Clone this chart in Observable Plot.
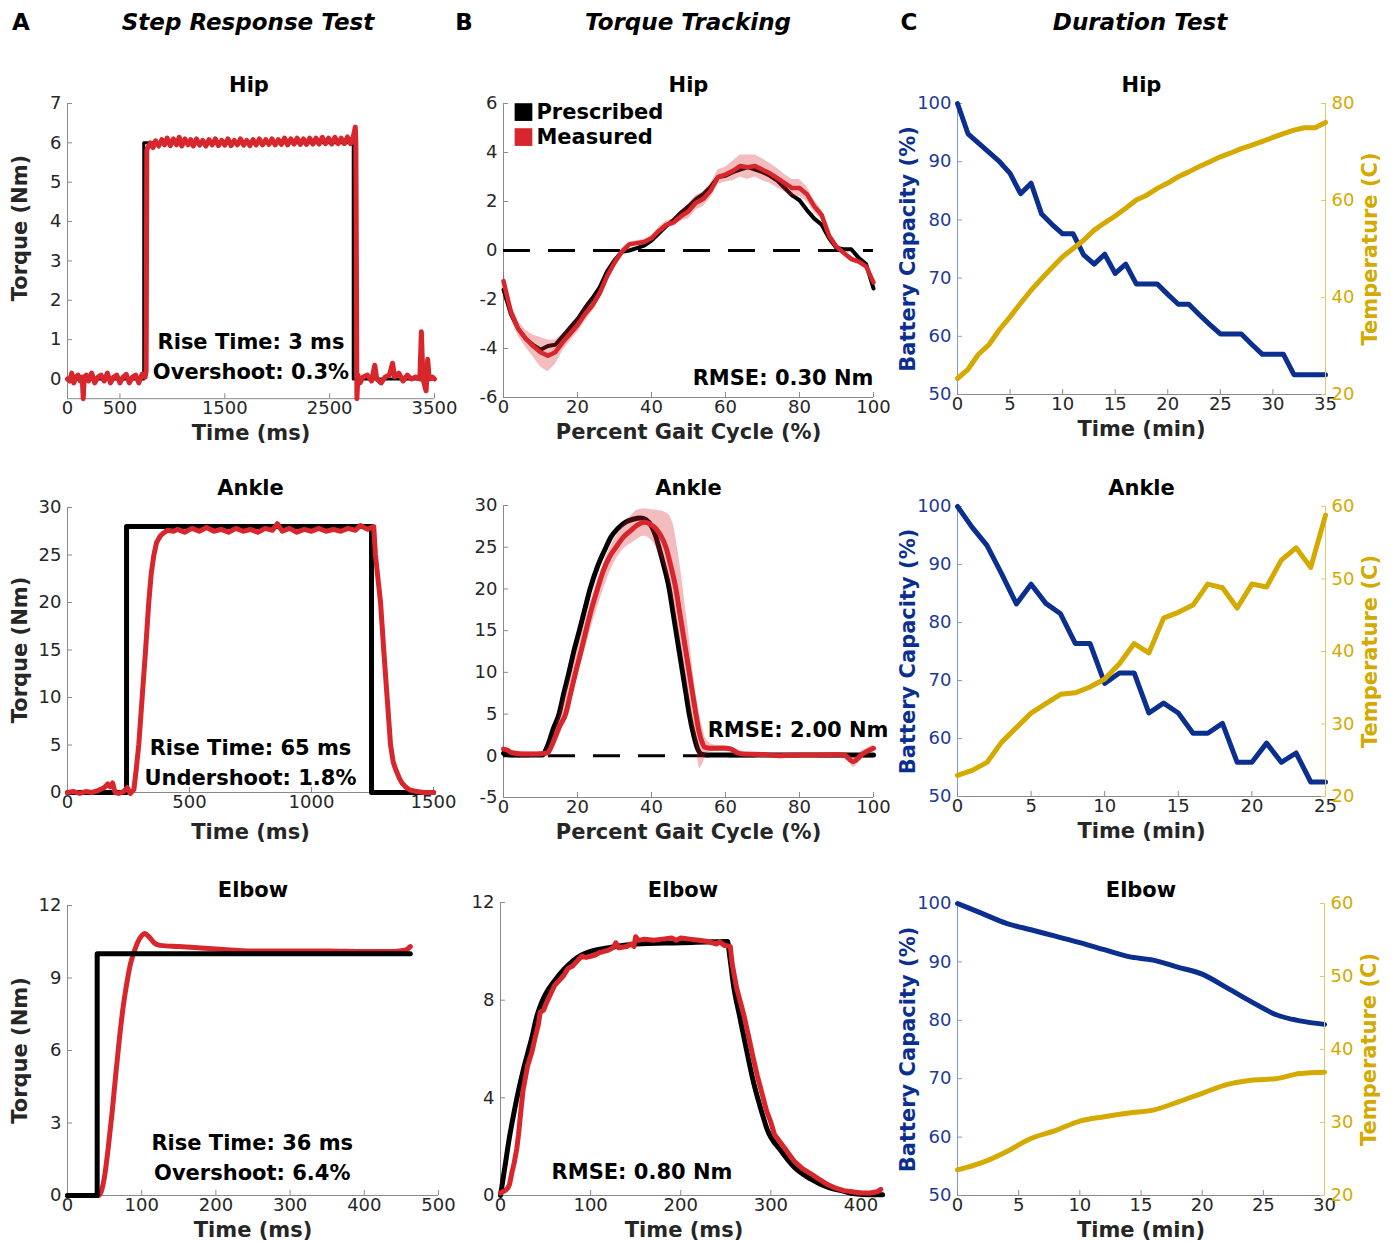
<!DOCTYPE html>
<html><head><meta charset="utf-8">
<script src="https://cdn.jsdelivr.net/npm/d3@7"></script>
<script src="https://cdn.jsdelivr.net/npm/@observablehq/plot@0.6"></script>
<style>
body{margin:0;background:#fff;font-family:"DejaVu Sans",Verdana,sans-serif;}
#root{position:relative;width:1391px;height:1242px;overflow:hidden;background:#fff;}
.hdr{position:absolute;font-weight:bold;font-size:23px;white-space:nowrap;transform:translate(-50%,-50%);color:#000;}
.hdr.it{font-style:italic;}
</style></head><body><div id="root"></div>
<script>
// ---------------- DATA ----------------
const headers = [["A",21],["B",464],["C",909]];
const columnTitles = [["Step Response Test",248],["Torque Tracking",688],["Duration Test",1140]];
const joints = ["Hip","Ankle","Elbow"];

// Column A: step response (time ms, torque Nm)
const hipStepPrescribed = [[0,0],[727,0],[727,6],[2725,6],[2725,0],[3500,0]];
const hipStepMeasured = [[0,0],[20,-0.05],[40,0.15],[60,-0.1],[80,0.05],[100,0.1],[120,-0.05],[140,0.05],[150,-0.5],[160,0.05],[180,0.1],[200,-0.05],[230,0.15],[260,-0.1],[290,0.05],[320,0.1],[350,-0.05],[380,0.15],[410,-0.1],[440,0.05],[470,0.1],[500,-0.1],[530,0.05],[560,0.12],[590,-0.1],[620,0.05],[650,0.1],[680,-0.1],[710,0.12],[740,0.05],[750,0.2],[756,5.8],
[760,5.85],[790,6.0],[815,5.88],[840,6.05],[870,5.92],[900,6.08],[925,5.95],[950,6.12],[980,5.93],[1010,6.1],[1040,5.95],[1065,6.14],[1090,5.92],[1120,6.1],[1150,5.95],[1175,6.08],[1200,5.92],[1230,6.1],[1260,5.94],[1290,6.06],[1320,5.92],[1350,6.08],[1380,5.95],[1410,6.1],[1440,5.93],[1470,6.06],[1500,5.94],[1530,6.1],[1560,5.93],[1590,6.06],[1620,5.95],[1650,6.1],[1680,5.94],[1710,6.06],[1740,5.93],[1770,6.08],[1800,5.95],[1830,6.1],[1860,5.95],[1890,6.08],[1920,5.96],[1950,6.1],[1980,5.95],[2010,6.08],[2040,5.96],[2070,6.12],[2100,5.95],[2130,6.1],[2160,5.97],[2190,6.12],[2220,5.96],[2250,6.1],[2280,5.96],[2310,6.12],[2340,5.97],[2370,6.12],[2400,5.97],[2430,6.14],[2460,5.98],[2490,6.12],[2520,5.97],[2550,6.14],[2580,5.98],[2610,6.12],[2640,5.98],[2670,6.15],[2700,5.98],[2725,6.15],[2745,6.4],[2750,6.0],[2755,3.0],[2760,-0.5],[2770,0.1],
[2790,-0.1],[2820,0.05],[2860,0.1],[2900,-0.05],[2930,0.35],[2950,0],[2990,-0.1],[3030,0.05],[3070,0.1],[3100,0.4],[3120,0.05],[3160,0.15],[3200,-0.05],[3240,0.1],[3280,0],[3320,0.05],[3360,0],[3375,1.2],[3390,0],[3420,-0.3],[3435,0.5],[3450,0],[3480,0.05],[3500,0]];

const ankleStepPrescribed = [[0,0],[242,0],[242,28],[1246,28],[1246,0],[1500,0]];
const ankleStepMeasured = [[0,0],[25,0.1],[50,-0.1],[75,0.1],[100,0],[125,0.2],[150,0.5],[165,0.9],[175,0.6],[185,1.0],[195,0],[210,-0.1],[230,0.1],[245,0.5],[258,-0.1],[272,0.3],[282,2.5],[292,5],[306,10],[320,15],[333,20],[343,23],[354,25],[365,26.3],[380,27],[393,27.3],[410,27.6],[435,27.5],[450,27.7],[480,27.4],[510,27.8],[540,27.5],[570,27.9],[600,27.5],[630,27.7],[660,27.4],[690,27.8],[720,27.5],[750,27.7],[780,27.4],[810,27.8],[840,27.6],[860,28.3],[880,27.5],[910,27.8],[940,27.4],[970,27.7],[1000,27.5],[1030,27.8],[1060,27.5],[1090,27.7],[1120,27.5],[1150,27.8],[1180,27.6],[1200,28.1],[1230,27.7],[1255,28.0],[1262,25],[1283,20],[1296,15],[1310,10],[1324,5],[1335,3.2],[1344,2.5],[1360,1.5],[1371,1.0],[1385,0.6],[1400,0.3],[1430,0.1],[1460,0],[1500,0]];

const elbowStepPrescribed = [[0,0],[40,0],[40,10],[462,10]];
const elbowStepMeasured = [[0,0],[42,0],[50,0.8],[55,2],[60,3.4],[65,5],[70,6.5],[75,7.8],[80,8.8],[85,9.6],[90,10.1],[95,10.5],[100,10.75],[104,10.84],[110,10.7],[117,10.45],[125,10.35],[150,10.3],[200,10.2],[250,10.12],[300,10.12],[350,10.12],[400,10.1],[440,10.1],[455,10.15],[462,10.3]];

const stepNotes = [["Rise Time: 3 ms","Overshoot: 0.3%"],["Rise Time: 65 ms","Undershoot: 1.8%"],["Rise Time: 36 ms","Overshoot: 6.4%"]];

// Column B: torque tracking
const hipTrackPrescribed = [[0,-1.6],[2,-2.6],[4,-3.2],[6,-3.6],[8,-3.85],[10,-4.05],[12,-3.9],[14,-3.85],[16,-3.5],[18,-3.15],[20,-2.8],[22,-2.35],[24,-1.95],[26,-1.5],[28,-0.85],[30,-0.4],[32,-0.05],[34,0.0],[36,0.1],[38,0.2],[40,0.4],[42,0.7],[44,1.0],[46,1.25],[48,1.55],[50,1.8],[52,2.1],[54,2.3],[56,2.6],[58,3.0],[60,3.05],[62,3.2],[64,3.3],[66,3.4],[68,3.3],[70,3.2],[72,3.05],[74,2.85],[76,2.55],[78,2.25],[80,2.05],[82,1.65],[84,1.3],[86,1.05],[88,0.5],[90,0.1],[92,0.05],[94,0.05],[96,-0.3],[98,-0.55],[100,-1.55]];
// [percent, measured mean, band half-width]
const hipTrackMeasured = [[0,-1.25,0.4],[2,-2.5,0.3],[4,-3.2,0.3],[6,-3.6,0.35],[8,-3.9,0.45],[10,-4.15,0.6],[12,-4.3,0.65],[14,-4.15,0.5],[16,-3.75,0.35],[18,-3.4,0.3],[20,-3.05,0.3],[22,-2.6,0.3],[24,-2.25,0.25],[26,-1.75,0.2],[28,-1.05,0.2],[30,-0.5,0.15],[32,-0.05,0.15],[34,0.25,0.1],[36,0.3,0.1],[38,0.35,0.1],[40,0.5,0.1],[42,0.8,0.15],[44,1.05,0.15],[46,1.15,0.15],[48,1.4,0.2],[50,1.6,0.3],[52,1.95,0.3],[54,2.1,0.3],[56,2.45,0.3],[58,3.0,0.3],[60,3.1,0.3],[62,3.25,0.4],[64,3.45,0.45],[66,3.4,0.5],[68,3.45,0.45],[70,3.3,0.45],[72,3.15,0.4],[74,2.95,0.4],[76,2.75,0.35],[78,2.55,0.35],[80,2.55,0.35],[82,2.3,0.3],[84,1.8,0.25],[86,1.45,0.2],[88,0.6,0.15],[90,0.15,0.1],[92,-0.1,0.1],[94,-0.35,0.1],[96,-0.45,0.1],[98,-0.65,0.1],[100,-1.3,0.15]];

const ankleTrackPrescribed = [[0,0.3],[2,0.1],[10.5,0.1],[12,1.3],[13.5,3.3],[15,5],[16.3,7.5],[17.7,10],[19,12.5],[20.5,15],[22,17.6],[23.4,20],[25.5,22.8],[27.7,25],[29,26.2],[30.8,27.2],[33,28],[35,28.35],[37.1,28.5],[38.5,28.3],[40,27.5],[41,26.5],[42,25],[43.5,22.5],[44.8,20],[45.7,17.5],[46.6,15],[47.5,12.5],[48.4,10],[49.3,7.5],[50.2,5],[51.5,2.3],[52.5,0.8],[53.5,0.2],[55,0.1],[100,0.1]];
const ankleTrackMeasured = [[0,0.8],[1,0.7],[2,0.4],[4,0.25],[6,0.2],[8,0.2],[10,0.25],[11.9,0.35],[13,1.2],[14,2.3],[15,3.4],[16.8,5],[18,7.2],[19.5,10],[21,12.6],[22.3,15],[23.8,17.6],[25.4,20],[27,22.2],[28.6,23.8],[30.4,25],[32.4,26.2],[34.4,27],[36,27.6],[38,28],[39.5,27.8],[41,27.3],[42.5,26.4],[43.9,25],[45.3,22.6],[46.6,20],[47.5,17.5],[48.4,15],[49.3,12.5],[50.2,10],[51.1,7.5],[52,5],[52.8,3],[53.6,1.7],[54.5,1.0],[56,0.9],[60,0.9],[61.5,0.8],[63,0.4],[65,0.2],[70,0.15],[75,0.0],[80,0.1],[85,0.1],[90,0.15],[92,0.1],[94.5,-0.7],[97,0.2],[100,0.9]];
// [percent, band low, band high]
const ankleTrackBand = [[0,0.5,1.1],[2,0.2,0.6],[10,0,0.45],[12,0,0.7],[15,2.2,4.8],[20,9.5,12.8],[25,17.2,20.5],[30,23.2,26],[33,25,28],[35,25.6,29],[36,25.9,29.4],[38,26.3,29.6],[40,25.8,29.5],[42,24.3,29.4],[44,22,29.1],[45,20.5,28.7],[46,18,27.5],[47,15.5,25],[48,13,22],[49,10,18.5],[50,7,15],[51,4,11],[52,1.5,7.5],[53,-1.5,5],[54,-0.8,3],[55,0.3,1.8],[57,0.5,1.3],[60,0.6,1.2],[62,0.5,1.0],[65,0,0.4],[70,0,0.3],[90,0,0.3],[93,-0.2,0.3],[94.5,-1.4,-0.2],[97,-0.2,0.6],[100,0.5,1.3]];

const elbowTrackPrescribed = [[0,0],[5,1.2],[10,2.4],[15,3.4],[20,4.3],[25,5.1],[30,5.8],[35,6.5],[40,7.3],[45,7.85],[50,8.25],[60,8.8],[70,9.25],[80,9.6],[90,9.85],[100,10.0],[120,10.15],[150,10.3],[200,10.35],[252,10.4],[254,9.9],[259,8.5],[265,7.4],[270,6.5],[281,4.6],[290,3.4],[296,2.7],[311,1.84],[326,1.16],[344,0.68],[363,0.34],[380,0.18],[393,0.07],[410,0.03],[424,0.03]];
const elbowTrackMeasured = [[0,0.1],[5,0.2],[8,0.3],[10,0.45],[13,1.0],[15,1.3],[18,1.9],[20,2.5],[23,3.6],[25,4.3],[28,4.9],[30,5.3],[35,5.9],[38,6.4],[42,7.0],[44,7.5],[48,7.6],[50,7.8],[55,8.2],[60,8.6],[65,8.8],[70,9.0],[75,9.3],[80,9.4],[85,9.6],[90,9.8],[95,9.75],[100,9.8],[105,9.85],[110,9.95],[115,10.0],[120,10.05],[125,10.15],[128,10.35],[131,10.15],[140,10.2],[145,10.3],[148,10.2],[150,10.6],[153,10.45],[160,10.5],[170,10.45],[180,10.5],[190,10.55],[195,10.45],[200,10.55],[210,10.5],[220,10.45],[230,10.4],[240,10.3],[243,10.4],[248,10.25],[255,10.2],[257,9.5],[262,8.5],[270,7.4],[276,6.4],[280,5.7],[285,4.9],[290,4.2],[295,3.5],[300,3.0],[304,2.5],[310,2.2],[316,1.9],[322,1.6],[326,1.4],[335,1.1],[344,0.9],[352,0.7],[363,0.45],[372,0.3],[381,0.2],[390,0.15],[400,0.1],[410,0.1],[418,0.15],[422,0.25]];
const rmseNotes = ["RMSE: 0.30 Nm","RMSE: 2.00 Nm","RMSE: 0.80 Nm"];
const legendItems = ["Prescribed","Measured"];

// Column C: duration test (minutes)
const hipMinutes = d3.range(0, 36);
const hipBattery = [100,94.8,93.2,91.6,90,88,84.5,86.3,81,79.2,77.6,77.6,74,72.4,74.1,70.8,72.4,69,69,69,67.2,65.5,65.5,63.7,62,60.4,60.4,60.4,58.6,56.9,56.9,56.9,53.4,53.4,53.4,53.4];
const hipTemp = [23.3,25.2,28.3,30.3,33.4,36,38.8,41.5,43.9,46.2,48.4,50.1,51.8,53.9,55.4,56.8,58.4,60.1,61.1,62.5,63.6,64.9,65.9,67,68,69,69.8,70.7,71.4,72.2,73,73.8,74.5,75,75,76.1];
const ankleMinutes = d3.range(0, 26);
const ankleBattery = [100,96.4,93.3,88.4,83.2,86.6,83.3,81.5,76.4,76.4,69.5,71.3,71.3,64.4,66.1,64.4,60.9,60.9,62.6,55.9,55.9,59.2,55.9,57.5,52.5,52.5];
const ankleTemp = [22.9,23.6,24.7,27.5,29.5,31.5,32.8,34.1,34.3,35.1,36.2,38.3,41.1,39.8,44.6,45.4,46.4,49.3,48.8,46,49.3,48.9,52.6,54.3,51.6,58.8];
const elbowMinutes = [0,2,4,6,8,10,12,14,16,18,20,22,24,26,28,30];
const elbowBattery = [100,98.3,96.6,95.5,94.4,93.3,92.1,90.9,90.3,89.1,87.9,85.6,83.2,81,79.9,79.3];
const elbowTemp = [23.5,24.5,26,27.8,28.9,30.2,30.8,31.3,31.7,32.8,34,35.2,35.8,36,36.7,36.9];

// ---------------- RENDERING ----------------
const root = document.getElementById("root");
const FONT = "'DejaVu Sans', Verdana, sans-serif";
const TXT = "#262626", AXL = "#8a8a8a";
const RED = "#d7262c", BLACK = "#000000", BLUE = "#0b2f8f", GOLD = "#d4aa00";
const BLUE_AX = "#7f9ad6", BLUE_TXT = "#1d3a94", GOLD_AX = "#e2c866";
const LW = 5;

for (const [t, x] of headers) {
  const d = document.createElement("div"); d.className = "hdr"; d.textContent = t;
  d.style.left = x + "px"; d.style.top = "22px"; root.appendChild(d);
}
for (const [t, x] of columnTitles) {
  const d = document.createElement("div"); d.className = "hdr it"; d.textContent = t;
  d.style.left = x + "px"; d.style.top = "22px"; root.appendChild(d);
}

const ML = 80, MR = 80, MT = 45, MB = 55;
function panel([x0, x1, yT, yB], x, y, marks) {
  const svg = Plot.plot({
    width: x1 - x0 + ML + MR, height: yB - yT + MT + MB,
    marginLeft: ML, marginRight: MR, marginTop: MT, marginBottom: MB,
    x: {...x, axis: null}, y: {...y, axis: null},
    style: {background: "transparent", overflow: "visible", fontFamily: FONT, fontSize: "18px", color: TXT},
    marks
  });
  svg.style.position = "absolute";
  svg.style.left = (x0 - ML) + "px";
  svg.style.top = (yT - MT) + "px";
  svg.style.maxWidth = "none";
  root.appendChild(svg);
}
const fmt = d => String(d);
function xAxis(ticks, color = TXT) {
  return Plot.axisX(ticks, {label: null, tickSize: -5, tickPadding: 8, tickFormat: fmt, fill: color, stroke: AXL});
}
function yAxis(ticks, opts = {}) {
  return Plot.axisY(ticks, {label: null, tickSize: -5, tickPadding: 11, tickFormat: fmt, fill: TXT, stroke: AXL, ...opts});
}
const TXTOPT = {text: d => d, fontWeight: "bold", fontSize: 21, lineAnchor: "middle", textAnchor: "middle"};
function title(t, dy, dx = 0) {
  return Plot.text([t], {...TXTOPT, frameAnchor: "top", dy, dx, fill: "#000"});
}
function xLabel(t, dy = 35, dx = 0) {
  return Plot.text([t], {...TXTOPT, frameAnchor: "bottom", dy, dx, fill: TXT});
}
function yLabel(t, dx = -47, color = TXT, anchor = "left", dy = 0) {
  return Plot.text([t], {...TXTOPT, frameAnchor: anchor, dx, dy, rotate: -90, fill: color});
}
const P = a => ({x: a[0], y: a[1]});
function line(data, stroke, opts = {}) {
  return Plot.line(data.map(P), {x: "x", y: "y", stroke, strokeWidth: LW, strokeLinejoin: "round", strokeLinecap: "round", ...opts});
}
function note(t, x, y, opts = {}) {
  return Plot.text([t], {...TXTOPT, x: () => x, y: () => y, fill: "#000", ...opts});
}

// ---- Column A ----
panel([67, 434, 102.5, 397.7], {domain: [0, 3500]}, {domain: [-0.5, 7]}, [
  Plot.ruleY([-0.5], {stroke: AXL}), Plot.ruleX([0], {stroke: AXL}),
  xAxis([0, 500, 1500, 2500, 3500]), yAxis(d3.range(0, 8)),
  line(hipStepPrescribed, BLACK, {strokeWidth: 3}),
  line(hipStepMeasured, RED),
  note(stepNotes[0][0], 1750, 0.94), note(stepNotes[0][1], 1750, 0.18),
  title(joints[0], -18, -2), xLabel("Time (ms)"), yLabel("Torque (Nm)", -47, TXT, "left", -23)
]);
panel([67, 433, 507, 792], {domain: [0, 1500]}, {domain: [0, 30]}, [
  Plot.ruleY([0], {stroke: AXL}), Plot.ruleX([0], {stroke: AXL}),
  xAxis([0, 500, 1000, 1500]), yAxis(d3.range(0, 31, 5)),
  line(ankleStepPrescribed, BLACK),
  line(ankleStepMeasured, RED),
  note(stepNotes[1][0], 750, 4.63), note(stepNotes[1][1], 750, 1.47),
  title(joints[1], -19), xLabel("Time (ms)", 40), yLabel("Torque (Nm)")
]);
panel([67, 438, 905, 1195], {domain: [0, 500]}, {domain: [0, 12]}, [
  Plot.ruleY([0], {stroke: AXL}), Plot.ruleX([0], {stroke: AXL}),
  xAxis(d3.range(0, 501, 100)), yAxis([0, 3, 6, 9, 12]),
  line(elbowStepMeasured, RED, {curve: "monotone-x"}),
  line(elbowStepPrescribed, BLACK),
  note(stepNotes[2][0], 249, 2.15), note(stepNotes[2][1], 249, 0.91),
  title(joints[2], -15), xLabel("Time (ms)", 35), yLabel("Torque (Nm)")
]);

// ---- Column B ----
const band = Plot.areaY(hipTrackMeasured.map(d => ({x: d[0], lo: d[1] - d[2], hi: d[1] + d[2]})),
  {x: "x", y1: "lo", y2: "hi", fill: RED, fillOpacity: 0.3});
panel([503, 873, 103, 397], {domain: [0, 100]}, {domain: [-6, 6]}, [
  Plot.ruleY([-6], {stroke: AXL}), Plot.ruleX([0], {stroke: AXL}),
  xAxis(d3.range(0, 101, 20)), yAxis(d3.range(-6, 7, 2)),
  Plot.ruleY([0], {stroke: "#000", strokeWidth: 3, strokeDasharray: "27,18"}),
  line(hipTrackPrescribed, BLACK, {strokeWidth: 4}),
  band,
  line(hipTrackMeasured, RED, {strokeWidth: 4.5}),
  Plot.dot(legendItems, {x: () => 5.4, y: (d, i) => [5.65, 4.63][i], symbol: "square", r: 10, fill: [BLACK, RED], stroke: null}),
  Plot.text(legendItems, {...TXTOPT, x: () => 8.9, y: (d, i) => [5.65, 4.63][i], textAnchor: "start", fill: "#000"}),
  note(rmseNotes[0], 100, -5.22, {textAnchor: "end"}),
  title(joints[0], -18), xLabel("Percent Gait Cycle (%)")
]);
panel([503, 873, 505, 797], {domain: [0, 100]}, {domain: [-5, 30]}, [
  Plot.ruleY([-5], {stroke: AXL}), Plot.ruleX([0], {stroke: AXL}),
  xAxis(d3.range(0, 101, 20)), yAxis(d3.range(-5, 31, 5)),
  Plot.ruleY([0], {stroke: "#000", strokeWidth: 3, strokeDasharray: "27,18"}),
  line(ankleTrackPrescribed, BLACK, {curve: "monotone-x"}),
  Plot.areaY(ankleTrackBand.map(d => ({x: d[0], lo: d[1], hi: d[2]})), {x: "x", y1: "lo", y2: "hi", fill: RED, fillOpacity: 0.3, curve: "monotone-x"}),
  line(ankleTrackMeasured, RED, {curve: "monotone-x"}),
  note(rmseNotes[1], 100, 3.1, {textAnchor: "end", dx: 15}),
  title(joints[1], -17), xLabel("Percent Gait Cycle (%)", 35)
]);
panel([500, 883, 902, 1195], {domain: [0, 425]}, {domain: [0, 12]}, [
  Plot.ruleY([0], {stroke: AXL}), Plot.ruleX([0], {stroke: AXL}),
  xAxis(d3.range(0, 401, 100)), yAxis([0, 4, 8, 12]),
  line(elbowTrackPrescribed, BLACK, {curve: "monotone-x"}),
  line(elbowTrackMeasured, RED),
  note(rmseNotes[2], 157, 0.94),
  title(joints[2], -12, -9), xLabel("Time (ms)", 35, -8)
]);

// ---- Column C ----
function duration(frame, minutes, battery, temp, xmax, tmax, ttitle, titleDy) {
  const xs = {domain: [0, xmax]};
  const curve = minutes.length < 20 ? "monotone-x" : "linear";
  panel(frame, xs, {domain: [50, 100]}, [
    Plot.ruleY([50], {stroke: AXL}), Plot.ruleX([0], {stroke: BLUE_AX}),
    xAxis(d3.range(0, xmax + 1, 5)),
    yAxis(d3.range(50, 101, 10), {fill: BLUE_TXT, stroke: BLUE_AX}),
    Plot.line(minutes.map((m, i) => ({x: m, y: battery[i]})), {x: "x", y: "y", stroke: BLUE, strokeWidth: LW, strokeLinejoin: "round", curve}),
    title(ttitle, titleDy), xLabel("Time (min)"), yLabel("Battery Capacity (%)", -49, BLUE)
  ]);
  const tstep = tmax === 80 ? 20 : 10;
  panel(frame, xs, {domain: [20, tmax]}, [
    Plot.ruleX([xmax], {stroke: GOLD_AX}),
    Plot.axisY(d3.range(20, tmax + 1, tstep), {anchor: "right", label: null, tickSize: -5, tickPadding: 11, tickFormat: fmt, fill: GOLD, stroke: GOLD_AX}),
    Plot.line(minutes.map((m, i) => ({x: m, y: temp[i]})), {x: "x", y: "y", stroke: GOLD, strokeWidth: LW, strokeLinejoin: "round", curve}),
    yLabel("Temperature (C)", 45, GOLD, "right")
  ]);
}
duration([957, 1325, 103, 394], hipMinutes, hipBattery, hipTemp, 35, 80, joints[0], -18);
duration([957, 1325, 506, 796], ankleMinutes, ankleBattery, ankleTemp, 25, 60, joints[1], -18);
duration([957, 1324, 903, 1195], elbowMinutes, elbowBattery, elbowTemp, 30, 60, joints[2], -13);
</script></body></html>
